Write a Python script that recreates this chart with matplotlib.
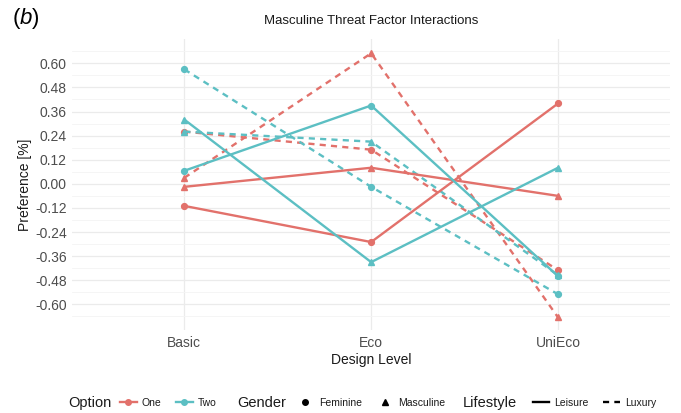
import matplotlib.pyplot as plt
from matplotlib.lines import Line2D
import numpy as np

plt.rcParams["font.family"] = ["Liberation Sans", "DejaVu Sans"]
plt.rcParams["mathtext.fontset"] = "custom"
plt.rcParams["mathtext.rm"] = "Liberation Sans"
plt.rcParams["mathtext.it"] = "Liberation Sans:italic"

levels = ["Basic", "Eco", "UniEco"]

# preference per design level, one list per Option/Gender/Lifestyle combination
one_fem_leisure = [-0.11, -0.29, 0.40]
one_mas_leisure = [-0.015, 0.08, -0.06]
one_fem_luxury = [0.26, 0.17, -0.43]
one_mas_luxury = [0.03, 0.65, -0.665]
two_fem_leisure = [0.065, 0.39, -0.46]
two_mas_leisure = [0.32, -0.39, 0.08]
two_fem_luxury = [0.57, -0.015, -0.55]
two_mas_luxury = [0.26, 0.21, -0.455]

red = "#E2716B"
teal = "#5CBFC3"

series = [
    (one_fem_luxury, red, "o", "--"),
    (one_mas_luxury, red, "^", "--"),
    (two_fem_luxury, teal, "o", "--"),
    (two_mas_luxury, teal, "^", "--"),
    (one_fem_leisure, red, "o", "-"),
    (one_mas_leisure, red, "^", "-"),
    (two_fem_leisure, teal, "o", "-"),
    (two_mas_leisure, teal, "^", "-"),
]

fig = plt.figure(figsize=(6.81, 4.13), dpi=100)
ax = fig.add_axes([0.106, 0.20, 0.878, 0.705])

x = np.arange(len(levels))
for vals, col, mk, ls in series:
    line, = ax.plot(x, vals, color=col, marker=mk, markersize=4.2, lw=1.7,
                    linestyle=ls)
    if ls == "--":
        line.set_dashes((2.6, 2.2))

# theme_minimal look
yt = np.round(np.arange(-0.60, 0.61, 0.12), 2)
ax.set_yticks(yt)
ax.set_yticklabels(["%.2f" % v for v in yt])
ax.set_yticks(np.round(np.arange(-0.66, 0.67, 0.12), 2), minor=True)
ax.set_xticks(x)
ax.set_xticklabels(levels)
ax.set_xlim(-0.6, 2.6)
ax.set_ylim(-0.73, 0.72)
ax.grid(True, which="major", color="#EBEBEB", lw=0.9)
ax.grid(True, which="minor", axis="y", color="#F4F4F4", lw=0.6)
ax.set_axisbelow(True)
for s in ax.spines.values():
    s.set_visible(False)
ax.tick_params(axis="both", which="both", length=0, labelsize=10,
               labelcolor="#4D4D4D", pad=4)

ax.set_xlabel("Design Level", fontsize=10, color="#1A1A1A", labelpad=2)
ax.set_ylabel("Preference [%]", fontsize=10, color="#1A1A1A", labelpad=2)
ax.set_title("Masculine Threat Factor Interactions", fontsize=9.5,
             color="#1A1A1A", pad=11)
fig.text(0.018, 0.955, r"($b$)", fontsize=16, va="center", ha="left")

# legend row at the bottom
ly = 0.025
fig.text(0.10, ly, "Option", fontsize=10.5, va="center", color="#1A1A1A")
fig.text(0.348, ly, "Gender", fontsize=10.5, va="center", color="#1A1A1A")
fig.text(0.68, ly, "Lifestyle", fontsize=10.5, va="center", color="#1A1A1A")

h_opt = [Line2D([], [], color=red, marker="o", markersize=4, lw=1.7),
         Line2D([], [], color=teal, marker="o", markersize=4, lw=1.7)]
h_gen = [Line2D([], [], color="black", marker="o", markersize=4, lw=0),
         Line2D([], [], color="black", marker="^", markersize=5, lw=0)]
h_sty = [Line2D([], [], color="black", lw=1.7, linestyle="-"),
         Line2D([], [], color="black", lw=1.7, linestyle=(0, (2.6, 2.2)))]

common = dict(loc="center left", ncol=2, frameon=False, fontsize=7.5,
              handlelength=1.6, handletextpad=0.5, columnspacing=1.4,
              borderaxespad=0, borderpad=0)
leg1 = fig.legend(h_opt, ["One", "Two"], bbox_to_anchor=(0.176, ly), **common)
leg2 = fig.legend(h_gen, ["Feminine", "Masculine"],
                  bbox_to_anchor=(0.436, ly), **common)
leg3 = fig.legend(h_sty, ["Leisure", "Luxury"],
                  bbox_to_anchor=(0.782, ly), **common)
for lg in (leg1, leg2, leg3):
    for t in lg.get_texts():
        t.set_color("#1A1A1A")

fig.savefig("out.png", dpi=100)
